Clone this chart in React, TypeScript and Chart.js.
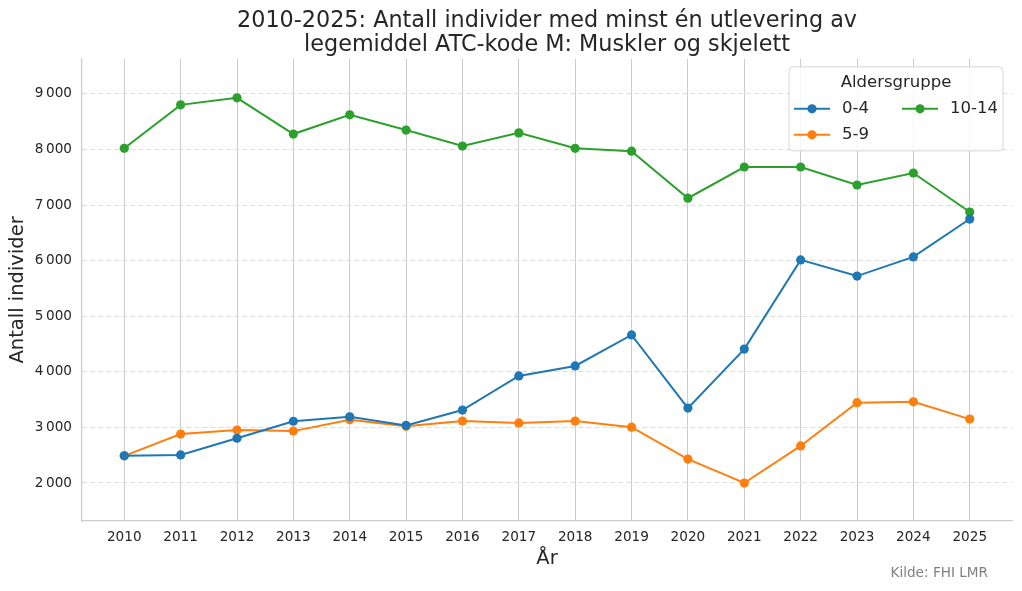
import React, { useEffect, useRef } from "react";
import { Chart, registerables } from "chart.js";

Chart.register(...registerables);

const years = [2010, 2011, 2012, 2013, 2014, 2015, 2016, 2017, 2018, 2019, 2020, 2021, 2022, 2023, 2024, 2025];
const series04 = [2490, 2505, 2805, 3110, 3190, 3035, 3312, 3925, 4105, 4663, 3347, 4408, 6013, 5722, 6067, 6748];
const series59 = [2488, 2881, 2952, 2933, 3137, 3020, 3115, 3080, 3115, 3004, 2430, 2000, 2666, 3445, 3460, 3149];
const series1014 = [8020, 8802, 8928, 8277, 8622, 8349, 8061, 8298, 8020, 7969, 7123, 7684, 7684, 7360, 7576, 6874];
const seriesLabels = ["0-4", "5-9", "10-14"];
const seriesColors = ["#1f77b4", "#ff7f0e", "#2ca02c"];
const yTicks = [2000, 3000, 4000, 5000, 6000, 7000, 8000, 9000];
const yMin = 1316;
const yMax = 9630;
const titleLines = [
  "2010-2025: Antall individer med minst én utlevering av",
  "legemiddel ATC-kode M: Muskler og skjelett",
];
const xTitle = "År";
const yTitle = "Antall individer";
const legendTitle = "Aldersgruppe";
const sourceText = "Kilde: FHI LMR";

const FONT = "'DejaVu Sans', sans-serif";
const TEXT = "#262626";

function fmt(v: number): string {
  return String(v).replace(/\B(?=(\d{3})+(?!\d))/g, "\u202f");
}

const legendPlugin = {
  id: "customLegend",
  afterDraw(chart: any) {
    const { ctx, chartArea } = chart;
    const w = 214;
    const h = 84;
    const left = chartArea.right - 9 - w;
    const top = chartArea.top + 8;
    ctx.save();
    const r = 4;
    ctx.beginPath();
    ctx.moveTo(left + r, top);
    ctx.lineTo(left + w - r, top);
    ctx.quadraticCurveTo(left + w, top, left + w, top + r);
    ctx.lineTo(left + w, top + h - r);
    ctx.quadraticCurveTo(left + w, top + h, left + w - r, top + h);
    ctx.lineTo(left + r, top + h);
    ctx.quadraticCurveTo(left, top + h, left, top + h - r);
    ctx.lineTo(left, top + r);
    ctx.quadraticCurveTo(left, top, left + r, top);
    ctx.closePath();
    ctx.fillStyle = "rgba(255,255,255,0.8)";
    ctx.fill();
    ctx.strokeStyle = "#d6d6d6";
    ctx.lineWidth = 1;
    ctx.stroke();

    ctx.fillStyle = TEXT;
    ctx.font = `16.5px ${FONT}`;
    ctx.textAlign = "center";
    ctx.textBaseline = "middle";
    ctx.fillText(legendTitle, left + w / 2, top + 16);

    const slots = [
      { x: left + 5, y: top + 42 },
      { x: left + 5, y: top + 68 },
      { x: left + 113, y: top + 42 },
    ];
    chart.data.datasets.forEach((ds: any, i: number) => {
      const s = slots[i];
      if (!s) return;
      ctx.strokeStyle = ds.borderColor;
      ctx.lineWidth = 2;
      ctx.beginPath();
      ctx.moveTo(s.x, s.y);
      ctx.lineTo(s.x + 36, s.y);
      ctx.stroke();
      ctx.fillStyle = ds.borderColor;
      ctx.beginPath();
      ctx.arc(s.x + 18, s.y, 4.6, 0, Math.PI * 2);
      ctx.fill();
      ctx.fillStyle = TEXT;
      ctx.textAlign = "left";
      ctx.fillText(ds.label, s.x + 48, s.y);
    });

    ctx.fillStyle = "#808080";
    ctx.font = `13.6px ${FONT}`;
    ctx.textAlign = "right";
    ctx.textBaseline = "middle";
    ctx.fillText(sourceText, chart.width - 34, chart.height - 18);
    ctx.restore();
  },
};

export default function App() {
  const canvasRef = useRef<HTMLCanvasElement | null>(null);

  useEffect(() => {
    if (!canvasRef.current) return;
    Chart.defaults.font.family = FONT;
    Chart.defaults.color = TEXT;
    const allSeries = [series04, series59, series1014];
    const chart = new Chart(canvasRef.current, {
      type: "line",
      data: {
        datasets: allSeries.map((vals, i) => ({
          label: seriesLabels[i],
          data: vals.map((v, j) => ({ x: years[j], y: v })),
          borderColor: seriesColors[i],
          backgroundColor: seriesColors[i],
          pointBackgroundColor: seriesColors[i],
          pointBorderColor: seriesColors[i],
          pointRadius: 4.6,
          pointBorderWidth: 0,
          borderWidth: 2,
          tension: 0,
          fill: false,
        })),
      },
      options: {
        animation: false,
        responsive: true,
        maintainAspectRatio: false,
        layout: { padding: { left: 0, right: 10, top: 0, bottom: 0 } },
        plugins: {
          legend: { display: false },
          tooltip: { enabled: false },
          title: {
            display: true,
            text: titleLines,
            fullSize: false,
            color: TEXT,
            font: { family: FONT, size: 22.3, weight: "normal", lineHeight: 1.05 },
            padding: { top: 10, bottom: 2 },
          },
        },
        scales: {
          x: {
            type: "linear",
            min: years[0] - 0.75,
            max: years[years.length - 1] + 0.75,
            afterBuildTicks: (s: any) => {
              s.ticks = years.map((v) => ({ value: v }));
            },
            afterFit: (s: any) => {
              s.height = 70;
            },
            ticks: {
              padding: 8,
              color: TEXT,
              font: { family: FONT, size: 13.6 },
              callback: (v: any) => String(v),
              maxRotation: 0,
              autoSkip: false,
            },
            grid: { color: "#cccccc", lineWidth: 1, drawTicks: false },
            border: { display: true, color: "#cccccc", width: 1.25 },
            title: {
              display: true,
              text: xTitle,
              color: TEXT,
              font: { family: FONT, size: 19.5, lineHeight: 1.2 },
              padding: { top: 0, bottom: 20 },
            },
          },
          y: {
            type: "linear",
            min: yMin,
            max: yMax,
            afterBuildTicks: (s: any) => {
              s.ticks = yTicks.map((v) => ({ value: v }));
            },
            afterFit: (s: any) => {
              s.width = 82;
            },
            ticks: {
              padding: 10,
              color: TEXT,
              font: { family: FONT, size: 13.6 },
              callback: (v: any) => fmt(Number(v)),
            },
            grid: { color: "#dddddd", lineWidth: 1, drawTicks: false },
            border: { display: true, color: "#cccccc", width: 1.25, dash: [5, 3] },
            title: {
              display: true,
              text: yTitle,
              color: TEXT,
              font: { family: FONT, size: 19.5, lineHeight: 1.2 },
              padding: { top: 6, bottom: 0 },
            },
          },
        },
      },
      plugins: [legendPlugin],
    } as any);
    return () => chart.destroy();
  }, []);

  return (
    <div style={{ position: "fixed", left: 0, top: 0, width: 1022, height: 591, background: "#fff" }}>
      <canvas ref={canvasRef} />
    </div>
  );
}
